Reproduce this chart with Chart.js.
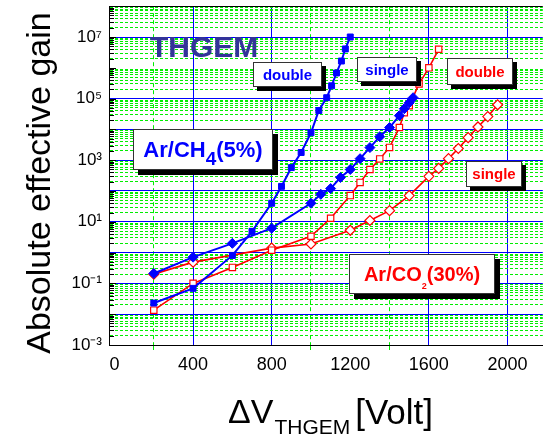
<!DOCTYPE html>
<html>
<head>
<meta charset="utf-8">
<script src="https://cdn.jsdelivr.net/npm/chart.js@4.4.0/dist/chart.umd.min.js"></script>
<style>
  html, body { margin: 0; padding: 0; background: #fff; }
  #wrap { width: 549px; height: 438px; }
</style>
</head>
<body>
<div id="wrap"><canvas id="gain" width="549" height="438"></canvas></div>
<script>
// values: THGEM voltage (V) and absolute effective gain
const ch4DoubleV = [200, 400, 600, 700, 800, 850, 900, 950, 1000, 1040, 1080, 1105, 1130, 1155, 1175, 1200];
const ch4DoubleG = [0.023, 0.069, 0.81, 4.9, 40, 141, 575, 1780, 7760, 4.1e4, 1.07e5, 2.6e5, 6.8e5, 1.66e6, 4.1e6, 1e7];

const ch4SingleV = [200, 400, 600, 800, 1000, 1050, 1100, 1150, 1200, 1250, 1300, 1350, 1400, 1450, 1475, 1500, 1520];
const ch4SingleG = [0.21, 0.71, 2.0, 6.2, 40, 78, 120, 275, 500, 1120, 2570, 5800, 1.15e4, 2.8e4, 4.7e4, 7.3e4, 1.07e5];

const co2DoubleV = [200, 400, 600, 800, 1000, 1100, 1200, 1250, 1300, 1350, 1400, 1450, 1475, 1500, 1550, 1600, 1650];
const co2DoubleG = [0.0135, 0.10, 0.33, 1.2, 3.4, 13, 71, 190, 500, 1100, 2600, 1.15e4, 3.5e4, 5.9e4, 3e5, 1e6, 4e6];

const co2SingleV = [200, 400, 800, 1000, 1200, 1300, 1400, 1500, 1600, 1650, 1700, 1750, 1800, 1850, 1900, 1950];
const co2SingleG = [0.2, 0.49, 1.4, 1.9, 5.3, 11, 23, 71, 300, 540, 1120, 2400, 5400, 1.2e4, 2.6e4, 6.3e4];

// axis ticks
const xTickValues = [0, 200, 400, 600, 800, 1000, 1200, 1400, 1600, 1800, 2000];
const xLabelValues = [0, 400, 800, 1200, 1600, 2000];
const xBlueLines = [400, 800, 1600, 2000];
const xGreenLines = [200, 1000, 1400];
const yLabelExps = [-3, -1, 1, 3, 5, 7];
const yMissingExps = [6];

const family = '"Liberation Sans", Arial, sans-serif';
const BLUE = '#0000ff';
const RED = '#ff0000';
const GREEN = '#00ee00';

let yTickValues = [];
for (let e = -3; e < 8; e++) {
    for (let m = 1; m < 10; m++) yTickValues.push(m * Math.pow(10, e));
}
yTickValues.push(1e8);

const sup = {'-': '\u207B', '0': '\u2070', '1': '\u00B9', '2': '\u00B2', '3': '\u00B3', '4': '\u2074',
             '5': '\u2075', '6': '\u2076', '7': '\u2077', '8': '\u2078', '9': '\u2079'};

function decadeOf(v) {
    let e = Math.round(Math.log10(v));
    return Math.abs(Math.log10(v) - e) < 1e-6 ? e : null;
}

function pairs(xs, ys) {
    return xs.map((x, i) => ({x: x, y: ys[i]}));
}

// boxed labels on the plot
const notes = [
    {box: [253, 62, 69, 25], shadow: 4, color: BLUE, parts: [{t: 'double', size: 15}]},
    {box: [357, 57, 60, 25], shadow: 4, color: BLUE, parts: [{t: 'single', size: 15}]},
    {box: [447, 58, 66, 27], shadow: 4, color: RED, parts: [{t: 'double', size: 15}]},
    {box: [466, 161, 56, 26], shadow: 4, color: RED, parts: [{t: 'single', size: 15}]},
    {box: [133, 129, 140, 41], shadow: 5, color: BLUE,
        parts: [{t: 'Ar/CH', size: 22}, {t: '4', size: 19, dy: 8}, {t: '(5%)', size: 22}]},
    {box: [349, 254, 146, 40], shadow: 5, color: RED,
        parts: [{t: 'Ar/CO', size: 20}, {t: '2', size: 9, dy: 8}, {t: '(30%)', size: 20}]}
];

function drawNote(c, n) {
    const [x, y, w, h] = n.box;
    c.fillStyle = '#000';
    c.fillRect(x + n.shadow, y + n.shadow, w, h);
    c.fillStyle = '#fff';
    c.fillRect(x, y, w, h);
    c.strokeStyle = '#333';
    c.lineWidth = 1;
    c.strokeRect(x + 0.5, y + 0.5, w - 1, h - 1);

    let total = 0;
    n.parts.forEach(p => {
        c.font = 'bold ' + p.size + 'px ' + family;
        total += c.measureText(p.t).width;
    });
    let tx = x + (w - total) / 2;
    const base = y + h / 2 + n.parts[0].size * 0.36;
    c.fillStyle = n.color;
    c.textBaseline = 'alphabetic';
    c.textAlign = 'left';
    n.parts.forEach(p => {
        c.font = 'bold ' + p.size + 'px ' + family;
        c.fillText(p.t, tx, base + (p.dy || 0));
        tx += c.measureText(p.t).width;
    });
}

const decorPlugin = {
    id: 'decor',
    beforeDatasetsDraw(chart) {
        // small black tick marks inside the left axis
        const c = chart.ctx;
        const ys = chart.scales.y;
        const left = chart.chartArea.left;
        c.save();
        c.strokeStyle = '#000';
        c.lineWidth = 1;
        ys.ticks.forEach(t => {
            const py = Math.round(ys.getPixelForValue(t.value)) + 0.5;
            const len = decadeOf(t.value) !== null ? 7 : 5;
            c.beginPath();
            c.moveTo(left, py);
            c.lineTo(left + len, py);
            c.stroke();
        });
        c.restore();
    },
    afterDraw(chart) {
        const c = chart.ctx;
        c.save();
        notes.forEach(n => drawNote(c, n));

        // THGEM title
        c.fillStyle = '#333399';
        c.font = 'bold 30px ' + family;
        c.textAlign = 'left';
        c.textBaseline = 'alphabetic';
        c.fillText('THGEM', 150, 57);

        // y axis title
        c.save();
        c.fillStyle = '#000';
        c.translate(50, 183);
        c.rotate(-Math.PI / 2);
        c.font = '34px ' + family;
        c.textAlign = 'center';
        c.fillText('Absolute effective gain', 0, 0);
        c.restore();

        // x axis title with subscript
        c.fillStyle = '#000';
        c.textAlign = 'left';
        let tx = 228;
        c.font = '34px ' + family;
        c.fillText('\u0394V', tx, 423);
        tx += c.measureText('\u0394V').width + 1;
        c.font = '21px ' + family;
        c.fillText('THGEM', tx, 434);
        tx += c.measureText('THGEM').width + 5;
        c.font = '35px ' + family;
        c.fillText('[Volt]', tx, 424);
        c.restore();
    }
};

Chart.defaults.font.family = family;

new Chart(document.getElementById('gain'), {
    type: 'line',
    data: {
        datasets: [
            {
                label: 'Ar/CH4 double', data: pairs(ch4DoubleV, ch4DoubleG),
                borderColor: BLUE, backgroundColor: BLUE, borderWidth: 2,
                pointStyle: 'rect', pointRadius: 4.2, pointBorderWidth: 1
            },
            {
                label: 'Ar/CH4 single', data: pairs(ch4SingleV, ch4SingleG),
                borderColor: BLUE, backgroundColor: BLUE, borderWidth: 2,
                pointStyle: 'rectRot', pointRadius: 5, pointBorderWidth: 1
            },
            {
                label: 'Ar/CO2 double', data: pairs(co2DoubleV, co2DoubleG),
                borderColor: RED, backgroundColor: '#fff', borderWidth: 1.6,
                pointStyle: 'rect', pointRadius: 4.5, pointBorderWidth: 1.2
            },
            {
                label: 'Ar/CO2 single', data: pairs(co2SingleV, co2SingleG),
                borderColor: RED, backgroundColor: '#fff', borderWidth: 1.6,
                pointStyle: 'rectRot', pointRadius: 5, pointBorderWidth: 1.2
            }
        ]
    },
    options: {
        responsive: false,
        animation: false,
        devicePixelRatio: 1,
        layout: {padding: {top: 6, right: 0, left: 0, bottom: 0}},
        elements: {line: {tension: 0}},
        plugins: {legend: {display: false}, tooltip: {enabled: false}},
        scales: {
            x: {
                type: 'linear', min: -28, max: 2180,
                afterBuildTicks: s => { s.ticks = xTickValues.map(v => ({value: v})); },
                afterFit: s => { s.height = 93; s.paddingLeft = 0; s.paddingRight = 0; },
                ticks: {
                    autoSkip: false, maxRotation: 0, color: '#000', padding: 4,
                    font: {size: 18},
                    callback: v => xLabelValues.includes(v) ? String(v) : ''
                },
                grid: {
                    lineWidth: 1, tickLength: 5,
                    color: ctx => xBlueLines.includes(ctx.tick.value) ? BLUE
                        : (xGreenLines.includes(ctx.tick.value) ? GREEN : 'rgba(0,0,0,0)'),
                    tickColor: ctx => xGreenLines.includes(ctx.tick.value) ? GREEN : 'rgba(0,0,0,0)'
                },
                border: {
                    color: '#000', width: 1,
                    dash: ctx => (ctx.type === 'tick' && xGreenLines.includes(ctx.tick.value)) ? [4, 3] : []
                }
            },
            y: {
                type: 'logarithmic', min: 1e-3, max: 1e8,
                afterBuildTicks: s => { s.ticks = yTickValues.map(v => ({value: v})); },
                afterFit: s => { s.width = 109; s.paddingTop = 0; s.paddingBottom = 0; },
                ticks: {
                    autoSkip: false, color: '#000', padding: 7,
                    font: {size: 17},
                    callback: v => {
                        const e = decadeOf(v);
                        if (e === null || !yLabelExps.includes(e)) return '';
                        return '10' + String(e).split('').map(ch => sup[ch]).join('');
                    }
                },
                grid: {
                    drawTicks: false, lineWidth: 1,
                    color: ctx => {
                        const e = decadeOf(ctx.tick.value);
                        if (e === null) return GREEN;
                        if (e === 8) return '#000';
                        if (e === -3 || yMissingExps.includes(e)) return 'rgba(0,0,0,0)';
                        return BLUE;
                    }
                },
                border: {
                    color: '#000', width: 1,
                    dash: ctx => (ctx.type === 'tick' && decadeOf(ctx.tick.value) === null) ? [3, 2] : []
                }
            }
        }
    },
    plugins: [decorPlugin]
});
</script>
</body>
</html>
